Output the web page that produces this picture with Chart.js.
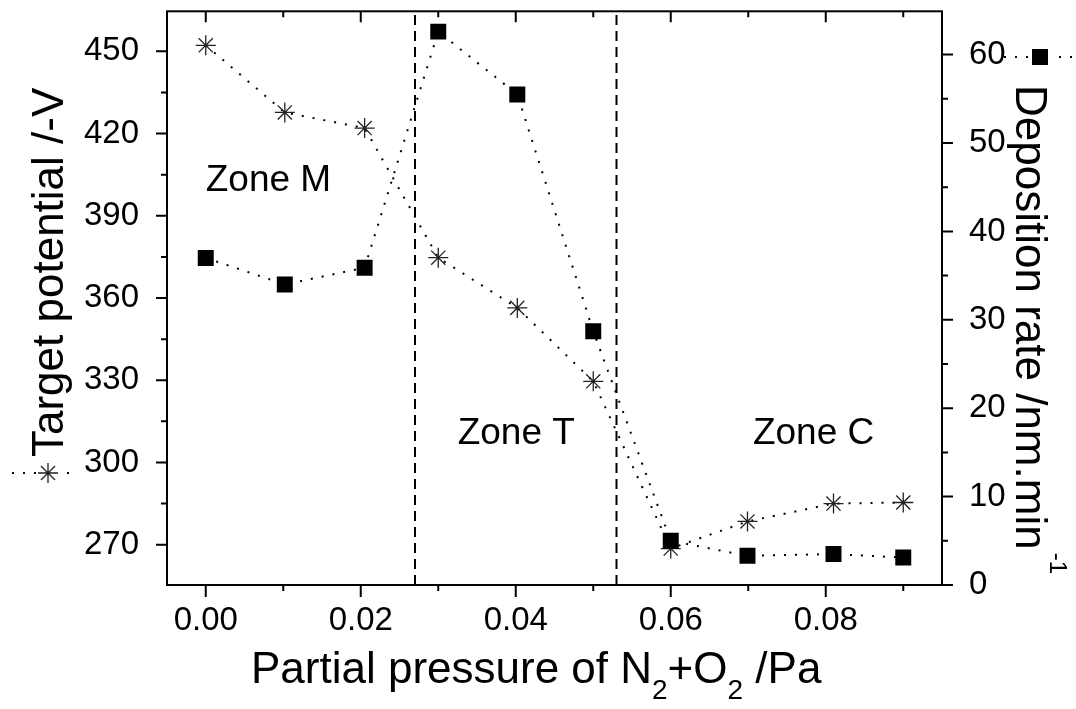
<!DOCTYPE html>
<html><head><meta charset="utf-8">
<script src="https://cdn.jsdelivr.net/npm/chart.js@4"></script>
<style>html,body{margin:0;padding:0;background:#fff}#wrap{width:1076px;height:709px;position:relative}</style>
</head><body><div id="wrap"><canvas id="c"></canvas></div>
<script>
// ---- data ----
const pressureStar   = [0, 0.0102, 0.0205, 0.0300, 0.0402, 0.0500, 0.0600, 0.0699, 0.0810, 0.0900];
const targetPotential = [452.2, 427.7, 422.0, 374.7, 356.4, 329.6, 268.6, 278.5, 285.0, 285.4];
const pressureSquare = [0, 0.0102, 0.0205, 0.0300, 0.0402, 0.0500, 0.0600, 0.0699, 0.0810, 0.0900];
const depositionRate = [37.0, 34.0, 35.9, 62.6, 55.5, 28.7, 5.0, 3.3, 3.5, 3.1];
const xTicks = [0, 0.02, 0.04, 0.06, 0.08];
const xMinorTicks = [0.01, 0.03, 0.05, 0.07, 0.09];
const leftTicks = [270, 300, 330, 360, 390, 420, 450];
const leftMinorTicks = [285, 315, 345, 375, 405, 435];
const rightTicks = [0, 10, 20, 30, 40, 50, 60];
const rightMinorTicks = [5, 15, 25, 35, 45, 55];
const zoneBounds = [0.027, 0.053];
const zoneNames = ['Zone M', 'Zone T', 'Zone C'];
const xRange = [-0.005, 0.095];
const leftRange = [255.3, 464.6];
const rightRange = [0, 64.9];

const FONT = '"Liberation Sans", Arial, sans-serif';
const pts = (xs, ys) => xs.map((x, i) => ({x, y: ys[i]}));

const dashedSets = zoneBounds.map(b => ({
  data: [{x: b, y: leftRange[0]}, {x: b, y: leftRange[1]}],
  yAxisID: 'y', showLine: true, borderColor: '#000', borderWidth: 2,
  borderDash: [10, 6], pointRadius: 0, order: 3
}));

function drawStar(ctx, x, y, r) {
  ctx.save();
  ctx.strokeStyle = '#222'; ctx.lineWidth = 1.3;
  ctx.beginPath();
  for (let k = 0; k < 4; k++) {
    const a = k * Math.PI / 4;
    ctx.moveTo(x - Math.cos(a) * r, y - Math.sin(a) * r);
    ctx.lineTo(x + Math.cos(a) * r, y + Math.sin(a) * r);
  }
  ctx.stroke();
  ctx.restore();
}

const deco = {
  id: 'deco',
  afterDatasetsDraw(chart) {
    const ctx = chart.ctx, a = chart.chartArea;
    const sx = chart.scales.x, sy = chart.scales.y, sy1 = chart.scales.y1;
    ctx.save();
    ctx.strokeStyle = '#000'; ctx.lineWidth = 2;
    ctx.strokeRect(a.left, a.top, a.right - a.left, a.bottom - a.top);
    ctx.beginPath();
    const tk = (x1, y1, x2, y2) => { ctx.moveTo(x1, y1); ctx.lineTo(x2, y2); };
    xTicks.forEach(v => { const p = sx.getPixelForValue(v); tk(p, a.bottom, p, a.bottom + 12); tk(p, a.top, p, a.top + 11); });
    xMinorTicks.forEach(v => { const p = sx.getPixelForValue(v); tk(p, a.bottom, p, a.bottom + 6); tk(p, a.top, p, a.top + 6); });
    leftTicks.forEach(v => { const p = sy.getPixelForValue(v); tk(a.left, p, a.left - 11, p); });
    leftMinorTicks.forEach(v => { const p = sy.getPixelForValue(v); tk(a.left, p, a.left - 6, p); });
    rightTicks.forEach(v => { const p = sy1.getPixelForValue(v); tk(a.right, p, a.right + 11, p); });
    rightMinorTicks.forEach(v => { const p = sy1.getPixelForValue(v); tk(a.right, p, a.right + 6, p); });
    ctx.stroke();

    // zone labels
    ctx.fillStyle = '#000';
    ctx.font = '37px ' + FONT;
    ctx.textBaseline = 'middle'; ctx.textAlign = 'left';
    const zonePos = [[0.0, 402.8], [0.0325, 310.6], [0.0706, 310.6]];
    zoneNames.forEach((t, i) => ctx.fillText(t, sx.getPixelForValue(zonePos[i][0]), sy.getPixelForValue(zonePos[i][1])));

    // x title
    ctx.textBaseline = 'alphabetic';
    let x = 251, yb = 683;
    const part = (t, size, dy) => { ctx.font = size + 'px ' + FONT; ctx.fillText(t, x, yb + dy); x += ctx.measureText(t).width; };
    part('Partial pressure of N', 44, 0); part('2', 28, 16); part('+O', 44, 0); part('2', 28, 16); part(' /Pa', 44, 0);

    // left title with star legend
    ctx.save();
    ctx.translate(63, 457); ctx.rotate(-Math.PI / 2);
    ctx.font = '44px ' + FONT; ctx.fillText('Target potential /-V', 0, 0);
    ctx.restore();
    ctx.save();
    ctx.strokeStyle = '#000'; ctx.lineWidth = 2; ctx.setLineDash([2, 9]);
    ctx.beginPath(); ctx.moveTo(12, 473); ctx.lineTo(78, 473); ctx.stroke();
    ctx.restore();
    ctx.fillStyle = '#fff'; ctx.fillRect(36, 463, 24, 20); ctx.fillStyle = '#000';
    drawStar(ctx, 48, 473, 10);

    // right title with square legend
    ctx.save();
    ctx.translate(1016, 85); ctx.rotate(Math.PI / 2);
    ctx.font = '44px ' + FONT; ctx.fillText('Deposition rate /nm.min', 0, 0);
    const w = ctx.measureText('Deposition rate /nm.min').width;
    ctx.font = '24px ' + FONT; ctx.fillText('-1', w + 3, -34);
    ctx.restore();
    ctx.save();
    ctx.strokeStyle = '#000'; ctx.lineWidth = 2; ctx.setLineDash([2, 9]);
    ctx.beginPath(); ctx.moveTo(1004, 57); ctx.lineTo(1076, 57); ctx.stroke();
    ctx.restore();
    ctx.fillStyle = '#fff'; ctx.fillRect(1028, 45, 24, 24);
    ctx.fillStyle = '#000'; ctx.fillRect(1032, 49, 16, 16);
    ctx.restore();
  }
};

const noPad = s => { s.paddingTop = 0; s.paddingBottom = 0; s.paddingLeft = 0; s.paddingRight = 0; };

new Chart(document.getElementById('c'), {
  type: 'scatter',
  data: {
    datasets: [
      { label: 'Deposition rate', data: pts(pressureSquare, depositionRate), yAxisID: 'y1',
        showLine: true, borderColor: '#000', borderWidth: 2, borderDash: [2, 9],
        pointStyle: 'rect', pointRadius: 11.3, pointBackgroundColor: '#000', pointBorderColor: '#000', pointBorderWidth: 0, order: 0 },
      { label: 'Target potential', data: pts(pressureStar, targetPotential), yAxisID: 'y',
        showLine: true, borderColor: '#000', borderWidth: 2, borderDash: [2, 9],
        pointStyle: 'star', pointRadius: 10, pointBorderColor: '#222', pointBorderWidth: 1.3, pointBackgroundColor: 'rgba(0,0,0,0)', order: 1 },
      ...dashedSets
    ]
  },
  options: {
    animation: false, responsive: true, maintainAspectRatio: false,
    layout: { padding: { top: 9, left: 0, right: 0, bottom: 0 } },
    plugins: { legend: { display: false }, tooltip: { enabled: false } },
    scales: {
      x: { type: 'linear', position: 'bottom', min: xRange[0], max: xRange[1],
        grid: { display: false }, border: { display: false },
        afterBuildTicks: s => { s.ticks = xTicks.map(v => ({value: v})); },
        afterFit: s => { s.height = 124; noPad(s); },
        ticks: { color: '#000', font: { family: FONT, size: 33 }, padding: 8, maxRotation: 0, callback: v => v.toFixed(2) } },
      y: { type: 'linear', position: 'left', min: leftRange[0], max: leftRange[1],
        grid: { display: false }, border: { display: false },
        afterBuildTicks: s => { s.ticks = leftTicks.map(v => ({value: v})); },
        afterFit: s => { s.width = 167; noPad(s); },
        ticks: { color: '#000', font: { family: FONT, size: 33 }, padding: 20, callback: v => String(v) } },
      y1: { type: 'linear', position: 'right', min: rightRange[0], max: rightRange[1],
        grid: { display: false }, border: { display: false },
        afterBuildTicks: s => { s.ticks = rightTicks.map(v => ({value: v})); },
        afterFit: s => { s.width = 134; noPad(s); },
        ticks: { color: '#000', font: { family: FONT, size: 33 }, padding: 19, callback: v => String(v) } }
    }
  },
  plugins: [deco]
});
</script></body></html>
